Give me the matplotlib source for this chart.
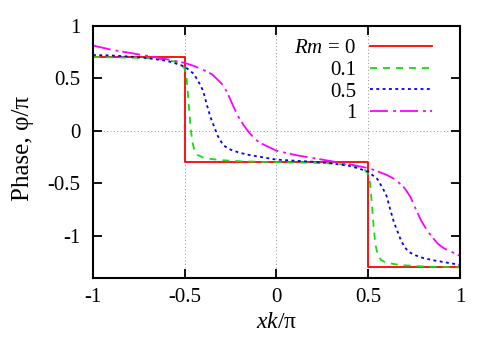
import matplotlib
matplotlib.use('Agg')
import matplotlib.pyplot as plt

plt.rcParams['font.family'] = ['Liberation Serif', 'DejaVu Serif']
plt.rcParams['mathtext.fontset'] = 'custom'
plt.rcParams['mathtext.rm'] = 'Liberation Serif'
plt.rcParams['mathtext.it'] = 'Liberation Serif:italic'
plt.rcParams['font.size'] = 15

# Rm = 0 : ideal step
x_rm0 = [-1.0, -0.5, -0.5, 0.5, 0.5, 1.0]
y_rm0 = [0.70, 0.70, -0.30, -0.30, -1.30, -1.30]

# Rm = 0.1
x_rm01 = [-1.0, -0.8, -0.7, -0.6, -0.55, -0.52, -0.5, -0.49, -0.48, -0.47,
          -0.46, -0.45, -0.43, -0.4, -0.35, -0.3, -0.2, -0.1,
          0.0, 0.2, 0.3, 0.4, 0.45, 0.48, 0.5, 0.51, 0.52, 0.53,
          0.54, 0.55, 0.57, 0.6, 0.65, 0.7, 0.8, 0.9, 1.0]
y_rm01 = [0.70, 0.695, 0.69, 0.675, 0.655, 0.63, 0.59, 0.50, 0.30, 0.07,
          -0.09, -0.17, -0.23, -0.255, -0.27, -0.28, -0.29, -0.295,
          -0.30, -0.305, -0.31, -0.325, -0.345, -0.37, -0.41, -0.50, -0.70, -0.93,
          -1.09, -1.17, -1.23, -1.255, -1.27, -1.28, -1.29, -1.295, -1.30]

# Rm = 0.5
x_rm05 = [-1.0, -0.9, -0.8, -0.7, -0.6, -0.55, -0.5, -0.45, -0.42, -0.4,
          -0.38, -0.36, -0.34, -0.32, -0.3, -0.28, -0.25, -0.2, -0.15, -0.1,
          -0.05, 0.0, 0.1, 0.2, 0.3, 0.4, 0.45, 0.5, 0.55, 0.58,
          0.6, 0.62, 0.64, 0.66, 0.68, 0.7, 0.72, 0.75, 0.8, 0.85,
          0.9, 0.95, 1.0]
y_rm05 = [0.72, 0.715, 0.705, 0.69, 0.665, 0.64, 0.61, 0.54, 0.45, 0.38,
          0.25, 0.13, 0.04, -0.05, -0.11, -0.15, -0.18, -0.21, -0.23, -0.245,
          -0.26, -0.275, -0.285, -0.295, -0.31, -0.335, -0.36, -0.39, -0.46, -0.55,
          -0.62, -0.75, -0.87, -0.96, -1.05, -1.11, -1.15, -1.18, -1.21, -1.23,
          -1.245, -1.26, -1.275]

# Rm = 1
x_rm1 = [-1.0, -0.9, -0.8, -0.7, -0.6, -0.5, -0.45, -0.4, -0.35, -0.3,
         -0.27, -0.24, -0.21, -0.18, -0.15, -0.12, -0.09, -0.06, -0.03,
         0.0, 0.1, 0.2, 0.3, 0.4, 0.5, 0.55, 0.6, 0.65, 0.7,
         0.73, 0.76, 0.79, 0.82, 0.85, 0.88, 0.91, 0.94, 0.97, 1.0]
y_rm1 = [0.81, 0.77, 0.74, 0.71, 0.68, 0.645, 0.615, 0.58, 0.535, 0.45,
         0.37, 0.25, 0.14, 0.055, -0.015, -0.075, -0.115, -0.14, -0.165,
         -0.19, -0.23, -0.26, -0.29, -0.32, -0.355, -0.385, -0.42, -0.465, -0.55,
         -0.63, -0.75, -0.86, -0.945, -1.015, -1.075, -1.115, -1.14, -1.165, -1.19]

labels = ['$Rm$ = 0', '0.1', '0.5', '1']
xticks = [-1, -0.5, 0, 0.5, 1]
yticks = [-1, -0.5, 0, 0.5, 1]

fig = plt.figure(figsize=(4.98, 3.49), dpi=100)
ax = fig.add_axes([0.1867, 0.2034, 0.7370, 0.7235])

for xv in (-0.5, 0, 0.5):
    ax.axvline(xv, color='#909090', lw=0.7, ls=(0, (1, 2.5)), zorder=1)
ax.axhline(0, color='#909090', lw=0.7, ls=(0, (1, 2.5)), zorder=1)

lw = 1.3
ax.plot(x_rm0, y_rm0, color='#ff0000', lw=lw, label=labels[0])
ax.plot(x_rm01, y_rm01, color='#11dd11', lw=lw, ls=(0, (3.9, 3.3)), label=labels[1])
ax.plot(x_rm05, y_rm05, color='#0000ff', lw=lw, ls=(0, (1.6, 1.9)), label=labels[2])
ax.plot(x_rm1, y_rm1, color='#ff00ff', lw=lw, ls=(0, (10, 2.8, 1.6, 2.2)), label=labels[3])

ax.set_xlim(-1, 1)
ax.set_ylim(-1.4, 1)
ax.set_xticks(xticks)
ax.set_yticks(yticks)
ax.set_xticklabels(['-1', '-0.5', '0', '0.5', '1'])
ax.set_yticklabels(['-1', '-0.5', '0', '0.5', '1'])
ax.tick_params(direction='in', length=6.5, width=1.3, top=True, right=True)
ax.tick_params(axis='x', pad=7.5)
ax.tick_params(axis='y', pad=9)
for s in ax.spines.values():
    s.set_linewidth(1.5)

ax.set_xlabel('$xk$/\u03c0', fontsize=17)
ax.set_ylabel('Phase, \u03c6/\u03c0', fontsize=18)
ax.xaxis.set_label_coords(0.5, -0.135)
ax.yaxis.set_label_coords(-0.16, 0.515)

leg = ax.legend(loc='upper right', bbox_to_anchor=(0.924, 0.948), frameon=False,
                markerfirst=False, handlelength=2.98, handletextpad=0.67,
                labelspacing=0.1, borderpad=0, borderaxespad=0)

fig.savefig('out.png', dpi=100)
